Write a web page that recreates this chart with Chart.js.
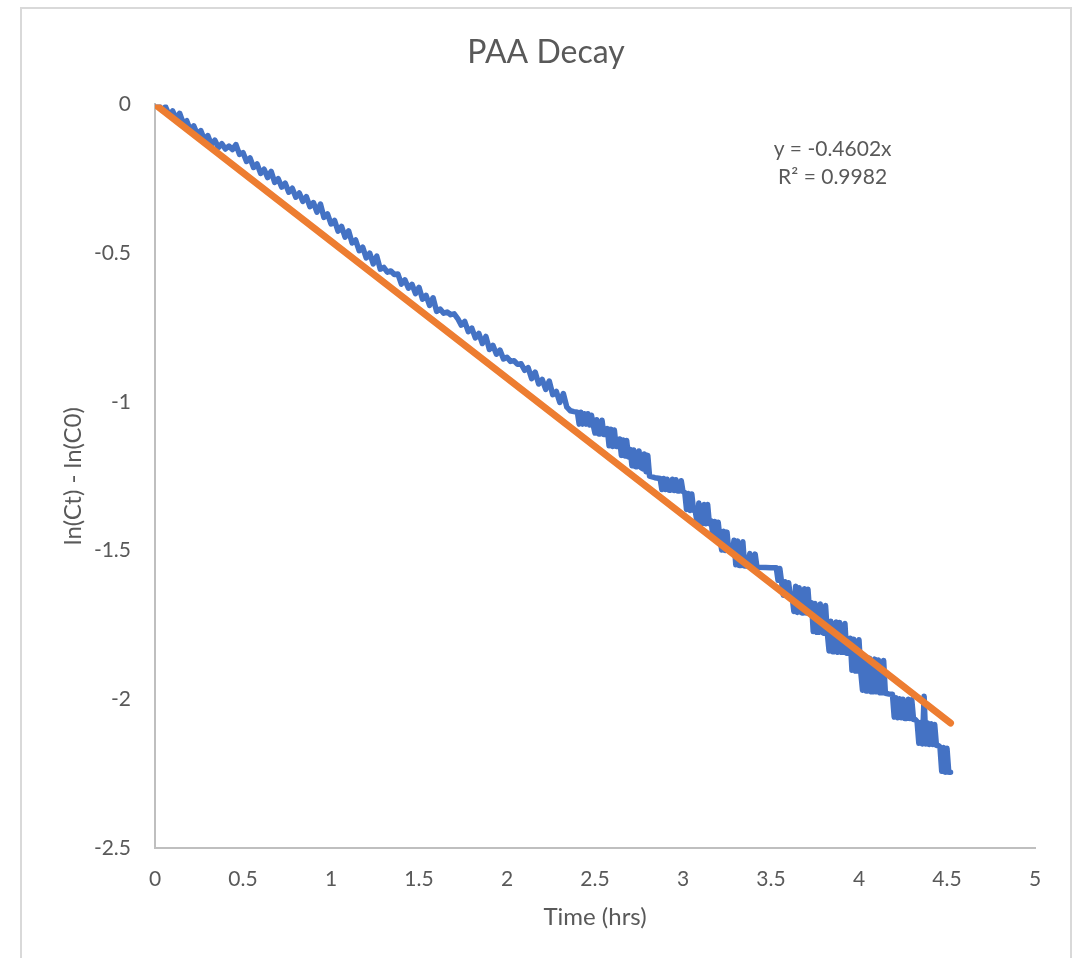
<!DOCTYPE html>
<html>
<head>
<meta charset="utf-8">
<title>PAA Decay</title>
<script src="https://cdn.jsdelivr.net/npm/chart.js@4.4.0/dist/chart.umd.min.js"></script>
<style>
  html, body { margin: 0; padding: 0; background: #fff; overflow: hidden; }
  #frame {
    position: absolute; left: 20px; top: 7px; width: 1052px; height: 1000px;
    border: 2px solid #d9d9d9; box-sizing: border-box;
  }
  #paa { position: absolute; left: 0; top: 0; }
</style>
</head>
<body>
<div id="frame"></div>
<canvas id="paa" width="1076" height="958"></canvas>
<script>
// logged ln(Ct) - ln(C0) readings, first part (noisy but continuous)
const timeEarly = [
  0.00, 0.02, 0.04, 0.06, 0.08, 0.10, 0.12, 0.14, 0.16, 0.18,
  0.20, 0.22, 0.24, 0.26, 0.28, 0.30, 0.32, 0.34, 0.36, 0.38,
  0.40, 0.42, 0.44, 0.46, 0.48, 0.50, 0.52, 0.54, 0.56, 0.58,
  0.60, 0.62, 0.64, 0.66, 0.68, 0.70, 0.72, 0.74, 0.76, 0.78,
  0.80, 0.82, 0.84, 0.86, 0.88, 0.90, 0.92, 0.94, 0.96, 0.98,
  1.00, 1.02, 1.04, 1.06, 1.08, 1.10, 1.12, 1.14, 1.16, 1.18,
  1.20, 1.22, 1.24, 1.26, 1.28, 1.30, 1.32, 1.34, 1.36, 1.38,
  1.40, 1.42, 1.44, 1.46, 1.48, 1.50, 1.52, 1.54, 1.56, 1.58,
  1.60, 1.62, 1.64, 1.66, 1.68, 1.70, 1.72, 1.74, 1.76, 1.78,
  1.80, 1.82, 1.84, 1.86, 1.88, 1.90, 1.92, 1.94, 1.96, 1.98,
  2.00, 2.02, 2.04, 2.06, 2.08, 2.10, 2.12, 2.14, 2.16, 2.18,
  2.20, 2.22, 2.24, 2.26, 2.28, 2.30, 2.32, 2.34
];
const lnEarly = [
  0.000, -0.002, -0.020, -0.008, -0.036, -0.022, -0.048, -0.030, -0.062, -0.055,
  -0.085, -0.072, -0.100, -0.088, -0.118, -0.105, -0.135, -0.120, -0.145, -0.132,
  -0.150, -0.140, -0.152, -0.135, -0.168, -0.162, -0.192, -0.180, -0.212, -0.200,
  -0.232, -0.218, -0.246, -0.225, -0.262, -0.250, -0.278, -0.265, -0.295, -0.282,
  -0.312, -0.298, -0.326, -0.310, -0.344, -0.330, -0.362, -0.335, -0.380, -0.368,
  -0.402, -0.390, -0.426, -0.410, -0.446, -0.425, -0.466, -0.456, -0.492, -0.480,
  -0.516, -0.500, -0.536, -0.510, -0.554, -0.548, -0.564, -0.560, -0.572, -0.570,
  -0.604, -0.590, -0.618, -0.605, -0.636, -0.615, -0.655, -0.642, -0.676, -0.650,
  -0.696, -0.688, -0.702, -0.698, -0.707, -0.704, -0.720, -0.742, -0.730, -0.764,
  -0.752, -0.785, -0.770, -0.804, -0.780, -0.824, -0.810, -0.840, -0.826, -0.856,
  -0.850, -0.864, -0.862, -0.874, -0.872, -0.894, -0.885, -0.922, -0.900, -0.940,
  -0.925, -0.958, -0.930, -0.976, -0.965, -1.002, -0.972, -1.018
];

// second part: the reading flips between two resolution steps
const timeLate = [
  2.36, 2.38, 2.40, 2.41, 2.42, 2.43, 2.44, 2.45, 2.46, 2.47, 2.48, 2.49,
  2.50, 2.51, 2.52, 2.53, 2.54, 2.55, 2.56,
  2.57, 2.58, 2.59, 2.60, 2.61, 2.62, 2.63,
  2.64, 2.65, 2.66, 2.67, 2.68, 2.69,
  2.70, 2.71, 2.72, 2.73, 2.74, 2.75, 2.76,
  2.77, 2.78, 2.79, 2.80, 2.81, 2.84, 2.87,
  2.88, 2.89, 2.90, 2.91, 2.92, 2.93,
  2.94, 2.95, 2.96, 2.97, 2.98, 2.99, 3.00,
  3.01, 3.02, 3.03, 3.04, 3.05, 3.06, 3.07,
  3.08, 3.09, 3.10, 3.11, 3.12, 3.13, 3.14, 3.15,
  3.16, 3.17, 3.18, 3.19, 3.20, 3.21,
  3.22, 3.23, 3.24, 3.25, 3.26, 3.27, 3.28,
  3.29, 3.30, 3.31, 3.32, 3.33, 3.34, 3.35,
  3.36, 3.38, 3.39, 3.40, 3.41, 3.42, 3.43, 3.47, 3.50, 3.53,
  3.54, 3.55, 3.56, 3.57, 3.58, 3.59, 3.60, 3.61, 3.62,
  3.63, 3.64, 3.65, 3.66, 3.67, 3.68, 3.69, 3.70, 3.71, 3.72,
  3.73, 3.74, 3.75, 3.76, 3.77, 3.78, 3.79, 3.80, 3.81, 3.82,
  3.83, 3.84, 3.85, 3.86, 3.87, 3.88, 3.89, 3.90, 3.91, 3.92, 3.93, 3.94,
  3.95, 3.96, 3.97, 3.98, 3.99, 4.00, 4.01,
  4.02, 4.03, 4.04, 4.05, 4.06, 4.07, 4.08, 4.09, 4.10, 4.11, 4.12, 4.13, 4.14, 4.15,
  4.17, 4.19,
  4.20, 4.21, 4.22, 4.23, 4.24, 4.25, 4.26, 4.27, 4.28, 4.29, 4.30, 4.31, 4.32,
  4.33, 4.34, 4.35, 4.36, 4.37, 4.38, 4.39, 4.40, 4.41, 4.42, 4.43, 4.44, 4.45,
  4.46, 4.47, 4.48, 4.49, 4.50, 4.51, 4.52
];
const lnLate = [
  -1.030, -1.033, -1.035, -1.075, -1.035, -1.075, -1.040, -1.075, -1.040, -1.078, -1.045, -1.078,
  -1.105, -1.060, -1.108, -1.108, -1.062, -1.110, -1.110,
  -1.090, -1.148, -1.092, -1.150, -1.095, -1.150, -1.150,
  -1.125, -1.180, -1.128, -1.182, -1.130, -1.185,
  -1.160, -1.215, -1.162, -1.218, -1.218, -1.165, -1.220,
  -1.225, -1.175, -1.235, -1.180, -1.250, -1.255, -1.258,
  -1.295, -1.258, -1.295, -1.260, -1.297, -1.297,
  -1.260, -1.298, -1.262, -1.300, -1.300, -1.265, -1.302,
  -1.305, -1.362, -1.308, -1.365, -1.310, -1.365, -1.368,
  -1.405, -1.340, -1.405, -1.408, -1.345, -1.410, -1.345, -1.410,
  -1.400, -1.455, -1.402, -1.458, -1.405, -1.460,
  -1.498, -1.435, -1.500, -1.438, -1.500, -1.502, -1.505,
  -1.465, -1.548, -1.468, -1.550, -1.550, -1.470, -1.552,
  -1.552, -1.510, -1.555, -1.555, -1.512, -1.555, -1.556, -1.557, -1.558, -1.558,
  -1.600, -1.560, -1.605, -1.650, -1.605, -1.652, -1.608, -1.655, -1.655,
  -1.705, -1.620, -1.708, -1.625, -1.708, -1.710, -1.628, -1.710, -1.630, -1.712,
  -1.675, -1.772, -1.678, -1.775, -1.775, -1.680, -1.775, -1.778, -1.685, -1.778,
  -1.838, -1.738, -1.840, -1.840, -1.740, -1.842, -1.742, -1.842, -1.842, -1.745, -1.845, -1.845,
  -1.795, -1.902, -1.798, -1.905, -1.905, -1.800, -1.908,
  -1.970, -1.860, -1.972, -1.972, -1.862, -1.975, -1.975, -1.865, -1.975, -1.868, -1.978, -1.978, -1.870, -1.980,
  -1.982, -1.983,
  -2.060, -1.995, -2.062, -1.998, -2.062, -2.000, -2.065, -2.065, -2.000, -2.065, -2.002, -2.068, -2.068,
  -2.075, -2.148, -2.078, -2.150, -1.990, -2.150, -2.080, -2.152, -2.082, -2.152, -2.085, -2.155, -2.155,
  -2.160, -2.242, -2.162, -2.245, -2.165, -2.245, -2.245
];

// linear fit through the origin
const trendSlope = -0.4602;
const trendR2 = 0.9982;
const trendRange = [0, 4.52];

const xTicks = [0, 0.5, 1, 1.5, 2, 2.5, 3, 3.5, 4, 4.5, 5];
const yTicks = [0, -0.5, -1, -1.5, -2, -2.5];

const textColor = '#595959';
const axisColor = '#BFBFBF';
const fontFamily = 'Lato, "Open Sans", sans-serif';

const allTimes = timeEarly.concat(timeLate);
const allLn = lnEarly.concat(lnLate);
const measured = allTimes.map((t, i) => ({ x: t, y: allLn[i] }));
const trendPts = trendRange.map(t => ({ x: t, y: trendSlope * t }));

// equation + R² in the upper right of the plot
const trendLabel = {
  id: 'trendLabel',
  afterDatasetsDraw(chart) {
    const { ctx, scales } = chart;
    const cx = scales.x.getPixelForValue(3.85);
    const cy = scales.y.getPixelForValue(-0.15);
    ctx.save();
    ctx.font = '21px ' + fontFamily;
    ctx.fillStyle = textColor;
    ctx.textAlign = 'center';
    ctx.textBaseline = 'middle';
    ctx.fillText('y = ' + trendSlope + 'x', cx, cy);
    ctx.fillText('R² = ' + trendR2, cx, cy + 28);
    ctx.restore();
  }
};

const plainTick = v => String(v);

new Chart(document.getElementById('paa'), {
  type: 'scatter',
  data: {
    datasets: [
      {
        label: 'Linear fit',
        data: trendPts,
        showLine: true,
        borderColor: '#ED7D31',
        borderWidth: 7,
        borderCapStyle: 'round',
        pointRadius: 0,
        order: 0
      },
      {
        label: 'ln(Ct) - ln(C0)',
        data: measured,
        showLine: true,
        borderColor: '#4472C4',
        borderWidth: 5.5,
        borderJoinStyle: 'round',
        borderCapStyle: 'round',
        pointRadius: 0,
        tension: 0,
        order: 1
      }
    ]
  },
  options: {
    responsive: false,
    animation: false,
    devicePixelRatio: 1,
    layout: { padding: { left: 21, right: 5, top: 0, bottom: 0 } },
    plugins: {
      legend: { display: false },
      tooltip: { enabled: false },
      title: {
        display: true,
        text: 'PAA Decay',
        color: textColor,
        font: { family: fontFamily, size: 32, weight: 'normal' },
        padding: { top: 33, bottom: 33 }
      }
    },
    scales: {
      x: {
        type: 'linear',
        min: 0,
        max: 5,
        afterBuildTicks: s => { s.ticks = xTicks.map(v => ({ value: v })); },
        ticks: {
          color: textColor,
          font: { family: fontFamily, size: 21 },
          padding: 19,
          autoSkip: false,
          maxRotation: 0,
          callback: plainTick
        },
        grid: { display: false, drawTicks: false },
        border: { color: axisColor, width: 2 },
        title: {
          display: true,
          text: 'Time (hrs)',
          color: textColor,
          font: { family: fontFamily, size: 24 },
          padding: { top: 0, bottom: 26 }
        },
        afterFit: s => { s.height = 110; }
      },
      y: {
        type: 'linear',
        min: -2.5,
        max: 0,
        afterBuildTicks: s => { s.ticks = yTicks.map(v => ({ value: v })); },
        ticks: {
          color: textColor,
          font: { family: fontFamily, size: 21 },
          padding: 24,
          callback: plainTick
        },
        grid: { display: false, drawTicks: false },
        border: { color: axisColor, width: 2 },
        title: {
          display: true,
          text: 'ln(Ct) - ln(C0)',
          color: textColor,
          font: { family: fontFamily, size: 24 },
          padding: { top: 38, bottom: 0 }
        },
        afterFit: s => { s.width = 134; }
      },
      // empty strip on the right so the plot stops at x = 5
      gutter: {
        type: 'linear',
        position: 'right',
        ticks: { display: false },
        grid: { display: false, drawTicks: false },
        border: { display: false },
        afterFit: s => { s.width = 36; }
      }
    }
  },
  plugins: [trendLabel]
});
</script>
</body>
</html>
